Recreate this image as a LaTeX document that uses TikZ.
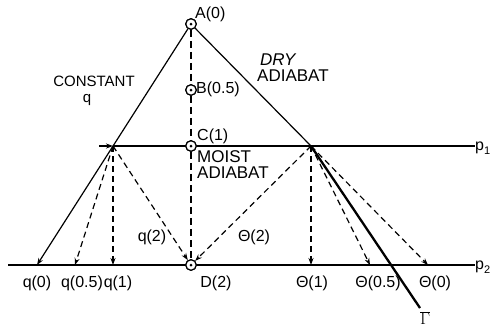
\documentclass[tikz,border=0pt]{standalone}
\usepackage{fontspec}
\setmainfont{Liberation Sans}
\usetikzlibrary{arrows.meta}
\begin{document}
\begin{tikzpicture}[x=1pt,y=-1pt,
  lbl/.style={font=\fontsize{16}{17}\selectfont, inner sep=0pt},
  biglbl/.style={font=\fontsize{17}{16.5}\selectfont, inner sep=0pt},
  ring/.style={circle, draw, line width=1.2pt, minimum size=10.5pt, inner sep=0pt, fill=white},
  solidln/.style={line width=1.2pt},
  thickln/.style={line width=2.3pt},
  dsh/.style={line width=1.2pt, dash pattern=on 6pt off 4pt},
  vdsh/.style={line width=2pt, dash pattern=on 7pt off 4pt},
  tip/.style={-{Stealth[length=7pt,width=5pt]}}]
\useasboundingbox (0,0) rectangle (490,335);
% points
\coordinate (L) at (113,146);
\coordinate (R) at (311,146);
\coordinate (q0) at (37,265);
\coordinate (q05) at (75,265);
\coordinate (q1) at (113,265);
\coordinate (T1) at (311,265);
\coordinate (T05) at (370,265);
\coordinate (T0) at (428,265);
\coordinate (G) at (420,308);
\coordinate (p1s) at (99,146);
\coordinate (p1e) at (475,146);
\coordinate (p2s) at (8,265);
\coordinate (p2e) at (475,265);
\node[ring] (A) at (191,24) {};
\node[ring] (B) at (191,90) {};
\node[ring] (C) at (191,146) {};
\node[ring] (D) at (191,265) {};
% pressure levels
\draw[solidln] (L) -- (p1e);
\draw[solidln, tip] (p1s) -- (L);
\draw[solidln] (p2s) -- (p2e);
% vertical dashed
\draw[vdsh] (A) -- (B);
\draw[vdsh] (B) -- (C);
\draw[vdsh] (C) -- (D);
% constant q and dry adiabat
\draw[solidln, tip] (A) -- (q0);
\draw[solidln] (A) -- (R);
\draw[thickln] (R) -- (G);
% dashed from L
\draw[dsh, tip] (L) -- (q05);
\draw[dsh, tip] (L) -- (q1);
\draw[dsh, tip] (L) -- (D);
% dashed from R
\draw[dsh, tip] (R) -- (D);
\draw[dsh, tip] (R) -- (T1);
\draw[dsh, tip] (R) -- (T05);
\draw[dsh, tip] (R) -- (T0);
% rings on top
\foreach \n in {A,B,C,D}{
  \node[ring] at (\n) {};
  \fill (\n) circle (1.5pt);
}
% labels
\node[lbl, anchor=west] (lA) at (195,14) {A(0)};
\node[lbl, anchor=west] (lB) at (196,89) {B(0.5)};
\node[lbl, anchor=west] (lC) at (197,136) {C(1)};
\node[biglbl, anchor=west] (lM1) at (197,157) {MOIST};
\node[biglbl, anchor=west] (lM2) at (197,173) {ADIABAT};
\node[biglbl, anchor=west] (lDry1) at (260,60) {\textit{DRY}};
\node[biglbl, anchor=west] (lDry2) at (257,76) {ADIABAT};
\node[font=\fontsize{15}{15}\selectfont, inner sep=0pt] (lCq1) at (94,81) {CONSTANT};
\node[font=\fontsize{15}{15}\selectfont, inner sep=0pt] (lCq2) at (87,100) {q};
\node[lbl] (lq2) at (152,237) {q(2)};
\node[lbl] (lT2) at (254,237) {Θ(2)};
\node[lbl] (lq0) at (37,283) {q(0)};
\node[lbl] (lq05) at (82,283) {q(0.5)};
\node[lbl] (lq1) at (118,283) {q(1)};
\node[lbl] (lD) at (216,283) {D(2)};
\node[lbl] (lT1) at (312,283) {Θ(1)};
\node[lbl] (lT05) at (378,283) {Θ(0.5)};
\node[lbl] (lT0) at (435,283) {Θ(0)};
\node[lbl, anchor=west] (lp1) at (475,148) {p\raisebox{-0.45ex}{\fontsize{11}{11}\selectfont 1}};
\node[lbl, anchor=west] (lp2) at (475,267) {p\raisebox{-0.45ex}{\fontsize{11}{11}\selectfont 2}};
\node[font=\fontsize{19}{19}\selectfont, inner sep=0pt] (lG) at (425,318) {$\overline{\Gamma}$};
\end{tikzpicture}
\end{document}
